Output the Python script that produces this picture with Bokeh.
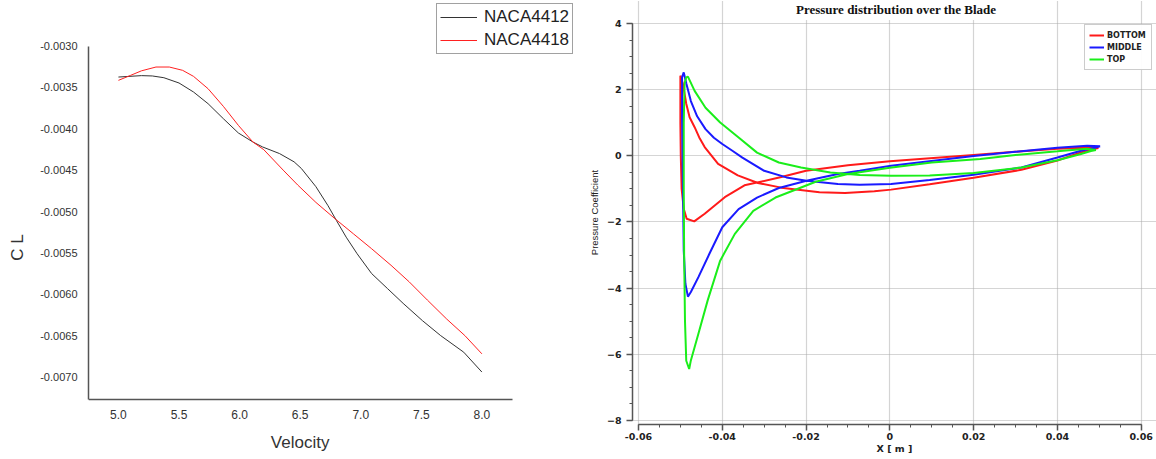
import math
from bokeh.plotting import figure
from bokeh.layouts import row
from bokeh.models import Legend, LegendItem, FixedTicker, PrintfTickFormatter, Label
from bokeh.embed import file_html
from bokeh.resources import INLINE

# ---------------- Left chart data ----------------
vel_4412 = [5.0, 5.19, 5.28, 5.375, 5.5, 5.62, 5.74, 5.866, 5.99, 6.11, 6.19, 6.33, 6.45, 6.51,
            6.63, 6.73, 6.80, 6.88, 6.97, 7.09, 7.22, 7.35, 7.51, 7.66, 7.85, 8.0]
cl_4412 = [-0.003375, -0.003358, -0.003362, -0.003383, -0.003447, -0.003556, -0.003697, -0.003878,
           -0.004051, -0.00416, -0.00422, -0.0043, -0.0044, -0.00448, -0.0047, -0.00493, -0.00511,
           -0.00531, -0.00551, -0.00575, -0.00593, -0.00611, -0.00632, -0.0065, -0.0067, -0.00694]
vel_4418 = [5.0, 5.10, 5.19, 5.31, 5.42, 5.53, 5.62, 5.74, 5.866, 5.99, 6.11, 6.20, 6.36, 6.48,
            6.63, 6.79, 6.94, 7.09, 7.25, 7.40, 7.55, 7.71, 7.86, 8.0]
cl_4418 = [-0.003415, -0.003355, -0.0033, -0.003254, -0.003254, -0.003294, -0.003367, -0.003516,
           -0.003729, -0.003959, -0.00416, -0.004253, -0.0045, -0.00468, -0.00489, -0.00509,
           -0.00527, -0.00545, -0.00565, -0.00585, -0.00607, -0.0063, -0.0065, -0.00672]
vel_ticks = [5.0, 5.5, 6.0, 6.5, 7.0, 7.5, 8.0]
cl_ticks = [-0.0030, -0.0035, -0.0040, -0.0045, -0.0050, -0.0055, -0.0060, -0.0065, -0.0070]

# ---------------- Right chart data ----------------
x_bottom = [0.0498, 0.046, 0.04, 0.02, 0.0, -0.01, -0.02, -0.0259, -0.0347, -0.0394, -0.0442,
            -0.0467, -0.0485, -0.0492, -0.0497, -0.0499, -0.0500, -0.0500, -0.0500, -0.0494,
            -0.0486, -0.0478, -0.0466, -0.0455, -0.0442, -0.041, -0.0363, -0.0315, -0.0259, -0.0168,
            -0.0107, -0.0037, 0.0003, 0.0095, 0.02, 0.0314, 0.040, 0.0454, 0.0489, 0.0498]
cp_bottom = [0.24, 0.25, 0.22, 0.03, -0.16, -0.28, -0.45, -0.64, -0.89, -1.25, -1.75,
             -1.98, -1.9, -1.6, -1.0, 0.0, 1.0, 2.0, 2.43, 2.18,
             1.58, 1.17, 0.87, 0.56, 0.27, -0.24, -0.59, -0.82, -0.96, -1.10,
             -1.12, -1.07, -1.02, -0.86, -0.66, -0.42, -0.14, 0.10, 0.22, 0.24]

x_middle = [0.0502, 0.0471, 0.040, 0.02, 0.0003, -0.0072, -0.0124, -0.0199, -0.0265, -0.0317,
            -0.0361, -0.04, -0.0431, -0.0457, -0.0475, -0.0482, -0.0488, -0.0492, -0.0494,
            -0.0496, -0.0496, -0.0492, -0.0486, -0.0475, -0.046, -0.044, -0.042, -0.04, -0.0375,
            -0.0352, -0.03, -0.0247, -0.0199, -0.0124, -0.0072, 0.0003, 0.0095, 0.02, 0.0314,
            0.04, 0.0454, 0.0489, 0.0502]
cp_middle = [0.29, 0.31, 0.25, 0.0, -0.3, -0.45, -0.55, -0.75, -0.97, -1.26,
             -1.61, -2.16, -2.97, -3.67, -4.12, -4.26, -3.87, -2.86, -0.84,
             1.17, 2.38, 2.53, 2.2, 1.66, 1.2, 0.81, 0.55, 0.36, 0.15,
             -0.05, -0.45, -0.65, -0.75, -0.85, -0.87, -0.85, -0.73, -0.57, -0.35,
             -0.05, 0.15, 0.25, 0.29]

x_top = [0.0492, 0.047, 0.04, 0.03, 0.0216, 0.01, 0.0, -0.01, -0.0177, -0.0221, -0.0273, -0.0326,
         -0.037, -0.0405, -0.0435, -0.0457, -0.0475, -0.0479, -0.0486, -0.0489, -0.0491, -0.0492,
         -0.0492, -0.0490, -0.0486, -0.0482, -0.0466, -0.044, -0.0405, -0.0361, -0.0317, -0.0265,
         -0.0212, -0.0142, -0.0072, 0.0003, 0.0095, 0.02, 0.0314, 0.04, 0.0454, 0.048, 0.0492]
cp_top = [0.18, 0.22, 0.14, 0.03, -0.09, -0.2, -0.36, -0.55, -0.78, -1.0, -1.26, -1.66,
          -2.36, -3.17, -4.38, -5.38, -6.19, -6.45, -6.2, -5.0, -3.0, -1.0,
          1.0, 2.2, 2.38, 2.40, 1.97, 1.46, 1.01, 0.56, 0.1, -0.2,
          -0.35, -0.5, -0.58, -0.6, -0.59, -0.52, -0.35, -0.13, 0.05, 0.15, 0.18]

x_ticks = [-0.06, -0.04, -0.02, 0, 0.02, 0.04, 0.06]
x_tick_labels = ["-0.06", "-0.04", "-0.02", "0", "0.02", "0.04", "0.06"]
cp_ticks = [-8, -6, -4, -2, 0, 2, 4]
series_names = ["BOTTOM", "MIDDLE", "TOP"]
series_colors = ["#ff1a1a", "#1a1aff", "#1aee1a"]

TOP = 0
BOTTOM = 35

# ================= Left figure =================
p1 = figure(width=580, height=459, x_range=(4.753, 8.814), y_range=(-0.007574, -0.00245),
            output_backend="svg", toolbar_location=None,
            min_border_left=88, min_border_right=0, min_border_top=TOP, min_border_bottom=BOTTOM)
p1.outline_line_color = None
p1.grid.visible = False
r1 = p1.line(vel_4412, cl_4412, line_color="#333333", line_width=1)
r2 = p1.line(vel_4418, cl_4418, line_color="#ff2020", line_width=1)

for ax in (p1.xaxis[0], p1.yaxis[0]):
    ax.axis_line_color = "#555555"
    ax.axis_line_width = 1.5
    ax.major_tick_line_color = None
    ax.minor_tick_line_color = None
    ax.major_tick_out = 0
    ax.major_tick_in = 0
    ax.minor_tick_out = 0
    ax.minor_tick_in = 0
    ax.major_label_text_font = "Liberation Sans"
    ax.major_label_text_color = "#333333"

p1.xaxis.ticker = FixedTicker(ticks=vel_ticks)
p1.xaxis.formatter = PrintfTickFormatter(format="%.1f")
p1.xaxis.major_label_text_font_size = "12px"
p1.xaxis.major_label_standoff = 10
p1.xaxis.bounds = (4.753, 8.255)
p1.xaxis.fixed_location = -0.007272
p1.yaxis.ticker = FixedTicker(ticks=cl_ticks)
p1.yaxis.formatter = PrintfTickFormatter(format="%.4f")
p1.yaxis.major_label_text_font_size = "11px"
p1.yaxis.major_label_standoff = 11
p1.yaxis.bounds = (-0.007272, -0.0030)

vel_label = Label(x=6.5, y=-0.007792, text="Velocity", text_align="center",
                  text_baseline="middle", text_font="Liberation Sans",
                  text_font_size="17px", text_color="#333333")
p1.add_layout(vel_label, "below")
cl_label = Label(x=4.164, y=-0.005435, text="C L", angle=math.pi / 2, text_align="center",
                 text_baseline="middle", text_font="Liberation Sans",
                 text_font_size="17px", text_color="#333333")
p1.add_layout(cl_label, "left")

leg1 = Legend(items=[LegendItem(label="NACA4412", renderers=[r1]),
                     LegendItem(label="NACA4418", renderers=[r2])],
              location=(348, 370))
leg1.label_text_font = "Liberation Sans"
leg1.label_text_font_size = "17px"
leg1.label_text_color = "#222222"
leg1.glyph_width = 37
leg1.glyph_height = 20
leg1.label_height = 20
leg1.label_standoff = 7
leg1.spacing = 3
leg1.padding = 3
leg1.margin = 0
leg1.border_line_color = "#444444"
leg1.border_line_width = 1.5
leg1.background_fill_alpha = 1
p1.add_layout(leg1)

# ================= Right figure =================
p2 = figure(width=576, height=459, x_range=(-0.06143, 0.06365), y_range=(-8.13, 4.705),
            output_backend="svg", toolbar_location=None,
            min_border_left=52, min_border_right=0, min_border_top=TOP, min_border_bottom=BOTTOM)
p2.outline_line_color = None

rb = p2.line(x_bottom, cp_bottom, line_color=series_colors[0], line_width=2)
rm = p2.line(x_middle, cp_middle, line_color=series_colors[1], line_width=2)
rt = p2.line(x_top, cp_top, line_color=series_colors[2], line_width=2)

x_minor = [x_ticks[0] + i * 0.005 for i in range(25)]
y_minor = [cp_ticks[0] + i * 0.5 for i in range(25)]
p2.xaxis.ticker = FixedTicker(ticks=x_ticks, minor_ticks=x_minor)
p2.yaxis.ticker = FixedTicker(ticks=cp_ticks, minor_ticks=y_minor)
p2.xaxis.major_label_overrides = {t: s for t, s in zip(x_ticks, x_tick_labels)}
p2.xaxis.bounds = (x_ticks[0], x_ticks[-1])
p2.yaxis.bounds = (cp_ticks[0], cp_ticks[-1])

for ax in (p2.xaxis[0], p2.yaxis[0]):
    ax.axis_line_color = "#555555"
    ax.axis_line_width = 1.5
    ax.major_tick_line_color = "#555555"
    ax.minor_tick_line_color = "#555555"
    ax.major_tick_line_width = 1.5
    ax.major_tick_out = 6
    ax.major_tick_in = 0
    ax.minor_tick_out = 3
    ax.minor_tick_in = 0
    ax.major_label_text_font = "DejaVu Sans"
    ax.major_label_text_font_style = "bold"
    ax.major_label_text_font_size = "9.5px"
    ax.major_label_text_color = "#222222"
    ax.axis_label_text_color = "#222222"
    ax.axis_label_text_font_size = "9.5px"

p2.xaxis.major_label_standoff = 2
p2.xaxis.axis_label = "X [ m ]"
p2.xaxis.axis_label_text_font = "DejaVu Sans"
p2.xaxis.axis_label_text_font_style = "bold"
p2.xaxis.axis_label_standoff = 0
p2.yaxis.major_label_standoff = 5
p2.yaxis.axis_label = "Pressure Coefficient"
p2.yaxis.axis_label_text_font = "Liberation Sans"
p2.yaxis.axis_label_text_font_style = "normal"
p2.yaxis.axis_label_standoff = 4

for g in (p2.xgrid[0], p2.ygrid[0]):
    g.grid_line_color = "#aaaaaa"
    g.grid_line_dash = "1 1"
    g.grid_line_width = 1.2

title_label = Label(x=0.0015, y=4.433, text="Pressure distribution over the Blade",
                    text_align="center", text_baseline="middle", text_font="Liberation Serif",
                    text_font_size="13px", text_font_style="bold", text_color="#111111",
                    background_fill_color="white", padding=3)
p2.add_layout(title_label)

leg2 = Legend(items=[LegendItem(label=series_names[0], renderers=[rb]),
                     LegendItem(label=series_names[1], renderers=[rm]),
                     LegendItem(label=series_names[2], renderers=[rt])],
              location=(452, 354))
leg2.label_text_font = "DejaVu Sans"
leg2.label_text_font_style = "bold"
leg2.label_text_font_size = "8px"
leg2.label_text_color = "#222222"
leg2.glyph_width = 15
leg2.glyph_height = 12
leg2.label_height = 12
leg2.label_width = 40
leg2.label_standoff = 3
leg2.spacing = 0
leg2.padding = 4
leg2.margin = 0
leg2.border_line_color = "#999999"
leg2.border_line_width = 1.5
p2.add_layout(leg2)

layout = row(p1, p2)
open("out.html", "w").write(file_html(layout, INLINE))
